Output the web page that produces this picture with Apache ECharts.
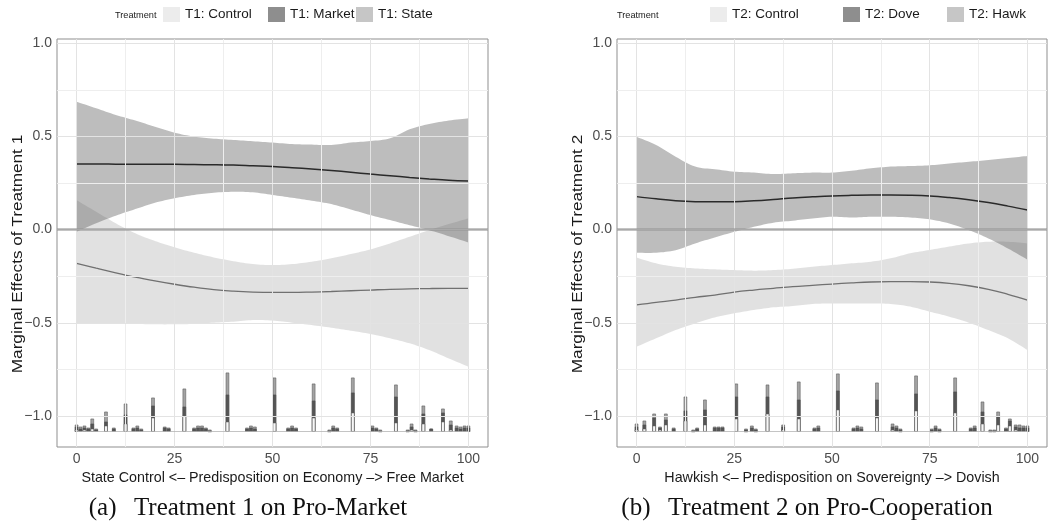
<!DOCTYPE html>
<html><head><meta charset="utf-8">
<script src="https://cdn.jsdelivr.net/npm/echarts@6/dist/echarts.min.js"></script>
<style>html,body{margin:0;padding:0;background:#fff}#c{width:1048px;height:530px}</style>
</head><body><div id="c"></div>
<script>
const FONT = '"Liberation Sans", Arial, Helvetica, sans-serif';
const SERIF = '"Liberation Serif", "Times New Roman", serif';

// axis settings
const X_MIN = -5, X_MAX = 105, Y_MIN = -1.166, Y_MAX = 1.0225;
const X_TICKS = [0, 25, 50, 75, 100];
const X_MINOR = [12.5, 37.5, 62.5, 87.5];
const Y_TICKS = [-1, -0.5, 0, 0.5, 1];
const Y_MINOR = [-0.75, -0.25, 0.25, 0.75];
const HIST_BASE = -1.084;     // where the histogram sits on the y scale
const HIST_UNIT = 0.00537;    // y units per count

// predisposition grid for fitted curves
const xs = [0,5,10,15,20,25,30,35,40,45,50,55,60,65,70,75,80,85,90,95,100];

// Panel (a): Treatment 1
const t1MarketHi  = [0.686,0.651,0.615,0.585,0.552,0.520,0.499,0.488,0.481,0.474,0.467,0.459,0.456,0.454,0.467,0.475,0.490,0.538,0.567,0.585,0.597];
const t1MarketFit = [0.352,0.352,0.351,0.350,0.350,0.350,0.349,0.348,0.346,0.342,0.338,0.332,0.325,0.317,0.308,0.298,0.289,0.280,0.272,0.265,0.261];
const t1MarketLo  = [-0.011,0.034,0.075,0.110,0.144,0.168,0.186,0.198,0.203,0.200,0.186,0.171,0.155,0.137,0.108,0.078,0.051,0.024,-0.003,-0.035,-0.069];
const t1StateHi   = [0.158,0.096,0.034,-0.020,-0.061,-0.095,-0.124,-0.149,-0.169,-0.185,-0.190,-0.185,-0.172,-0.154,-0.131,-0.106,-0.074,-0.038,-0.003,0.030,0.060];
const t1StateFit  = [-0.181,-0.207,-0.232,-0.255,-0.275,-0.293,-0.309,-0.322,-0.330,-0.335,-0.337,-0.337,-0.335,-0.332,-0.328,-0.324,-0.320,-0.318,-0.316,-0.315,-0.315];
const t1StateLo   = [-0.506,-0.506,-0.506,-0.506,-0.508,-0.508,-0.506,-0.499,-0.494,-0.485,-0.488,-0.499,-0.512,-0.526,-0.542,-0.560,-0.583,-0.610,-0.646,-0.691,-0.735];

// Panel (b): Treatment 2
const t2DoveHi  = [0.498,0.454,0.391,0.338,0.324,0.311,0.306,0.298,0.302,0.306,0.306,0.316,0.329,0.338,0.341,0.345,0.355,0.364,0.373,0.384,0.395];
const t2DoveFit = [0.177,0.165,0.155,0.150,0.149,0.150,0.155,0.162,0.170,0.176,0.181,0.184,0.186,0.186,0.185,0.181,0.172,0.160,0.145,0.126,0.105];
const t2DoveLo  = [-0.124,-0.124,-0.110,-0.074,-0.042,-0.012,0.015,0.037,0.048,0.060,0.069,0.065,0.069,0.069,0.065,0.055,0.033,-0.003,-0.047,-0.101,-0.161];
const t2HawkHi  = [-0.150,-0.181,-0.199,-0.208,-0.213,-0.217,-0.220,-0.217,-0.210,-0.199,-0.190,-0.181,-0.172,-0.154,-0.127,-0.109,-0.091,-0.074,-0.065,-0.065,-0.074];
const t2HawkFit = [-0.404,-0.390,-0.378,-0.363,-0.351,-0.335,-0.324,-0.315,-0.306,-0.299,-0.292,-0.286,-0.281,-0.279,-0.279,-0.281,-0.288,-0.301,-0.320,-0.347,-0.378];
const t2HawkLo  = [-0.628,-0.583,-0.539,-0.503,-0.471,-0.449,-0.431,-0.417,-0.410,-0.399,-0.396,-0.396,-0.396,-0.399,-0.413,-0.440,-0.467,-0.499,-0.539,-0.583,-0.646];

// Histograms (counts per treatment group)
const h1X       = [0,1,2,3,4,5,7.5,9.5,12.5,14.5,15.5,16.5,19.5,22.5,23.5,27.5,30,31,32,33,34,38.5,43.5,44.5,45.5,50.5,54,55,56,60.5,64.5,65.5,66.5,70.5,75.5,76.5,77.5,81.5,84.5,85.5,86.5,88.5,90.5,93.5,95.5,97,98,99,100];
const h1Control = [2,1,2,1,3,1,6,1,8,1,1,1,14,1,1,16,1,1,1,1,0,10,1,1,1,9,1,1,1,14,0,1,1,19,1,1,0,9,0,2,0,8,1,10,2,1,1,1,1];
const h1Market  = [3,2,2,2,5,1,4,2,9,2,3,1,12,3,2,9,2,3,3,2,1,27,2,3,2,28,2,3,2,17,1,3,2,20,3,2,1,26,1,3,1,10,2,9,5,3,2,3,3];
const h1State   = [2,2,2,1,5,1,10,1,11,1,2,1,8,1,1,18,1,2,2,1,1,22,1,2,2,17,1,2,1,17,1,2,1,15,2,1,1,12,1,3,1,8,0,4,4,2,2,2,2];

const h2X       = [0,2,4.5,6,7.5,9.5,12.5,14.5,15.5,17.5,20,21,22,25.5,28,29.5,30.5,33.5,37.5,41.5,45.5,46.5,51.5,55.5,56.5,57.5,61.5,65.5,66.5,67.5,71.5,75.5,76.5,77.5,81.5,85.5,86.5,88.5,90.5,91.5,92.5,94.5,95.5,97,98,99,100];
const h2Control = [2,3,6,2,7,1,11,0,1,7,1,1,1,13,0,1,0,18,2,13,1,1,22,1,1,1,14,2,1,0,21,0,1,0,19,1,1,8,0,0,7,1,6,2,1,1,1];
const h2Dove    = [3,4,8,2,5,2,10,1,2,15,3,3,3,22,2,3,2,17,3,19,2,3,19,2,3,2,18,3,3,2,17,2,3,2,21,2,3,12,1,1,8,2,5,3,3,3,3];
const h2Hawk    = [3,4,4,1,6,1,14,1,1,10,1,1,1,13,1,2,1,12,2,18,1,2,17,1,2,2,17,3,2,1,18,1,2,1,14,1,2,10,1,1,5,1,2,2,3,2,2];

const pair = (xa, ya) => xa.map((x, i) => [x, ya[i]]);
const cum = (...arrs) => arrs[0].map((_, i) => arrs.reduce((s, a) => s + a[i], 0));

const GRID_MAJOR = '#e3e3e3', GRID_MINOR = '#eeeeee';

function gridLinesSeries(p) {
  const d = [];
  X_TICKS.forEach(v => d.push({xAxis: v, lineStyle: {color: GRID_MAJOR, width: 1, type: 'solid'}}));
  X_MINOR.forEach(v => d.push({xAxis: v, lineStyle: {color: GRID_MINOR, width: 1, type: 'solid'}}));
  Y_TICKS.forEach(v => d.push({yAxis: v, lineStyle: {color: GRID_MAJOR, width: 1, type: 'solid'}}));
  Y_MINOR.forEach(v => d.push({yAxis: v, lineStyle: {color: GRID_MINOR, width: 1, type: 'solid'}}));
  return {
    type: 'line', xAxisIndex: p, yAxisIndex: 2 * p, data: [], z: 1, silent: true,
    markLine: {silent: true, symbol: ['none', 'none'], label: {show: false}, animation: false, data: d}
  };
}

// smooth (Catmull-Rom) sampling of pixel points, for drawing only
function smoothPts(pts) {
  const out = [];
  const n = pts.length;
  for (let i = 0; i < n - 1; i++) {
    const p0 = pts[Math.max(i - 1, 0)], p1 = pts[i], p2 = pts[i + 1], p3 = pts[Math.min(i + 2, n - 1)];
    for (let k = 0; k < 8; k++) {
      const t = k / 8, t2 = t * t, t3 = t2 * t;
      const f = (a, b, c, d) => 0.5 * ((2 * b) + (-a + c) * t + (2 * a - 5 * b + 4 * c - d) * t2 + (-a + 3 * b - 3 * c + d) * t3);
      out.push([f(p0[0], p1[0], p2[0], p3[0]), f(p0[1], p1[1], p2[1], p3[1])]);
    }
  }
  out.push(pts[n - 1]);
  return out;
}

function ribbon(p, name, lo, hi, color) {
  return {
    type: 'custom', name: name, xAxisIndex: p, yAxisIndex: 2 * p, silent: true, z: 2,
    data: pair(xs, lo), encode: {x: 0, y: 1},
    renderItem: (params, api) => {
      if (params.dataIndex !== 0) return null;
      const up = smoothPts(xs.map((x, i) => api.coord([x, hi[i]])));
      const dn = smoothPts(xs.map((x, i) => api.coord([x, lo[i]])));
      return {type: 'polygon', shape: {points: up.concat(dn.reverse())}, style: {fill: color}};
    }
  };
}

function fitLine(p, fit, color, width) {
  return {type: 'line', xAxisIndex: p, yAxisIndex: 2 * p, data: pair(xs, fit), smooth: 0.4,
          symbol: 'none', silent: true, z: 4, lineStyle: {color: color, width: width}};
}

function zeroLine(p) {
  return {type: 'line', xAxisIndex: p, yAxisIndex: 2 * p, data: [], z: 3, silent: true,
          markLine: {silent: true, symbol: ['none', 'none'], label: {show: false}, animation: false,
                     data: [{yAxis: 0, lineStyle: {color: 'rgba(150,150,150,0.75)', width: 2.5, type: 'solid'}}]}};
}

// bars are layered (cumulative totals drawn back to front) so segments stack visually
function histBar(p, name, hx, vals, color, withBase) {
  const s = {type: 'bar', name: name, xAxisIndex: p, yAxisIndex: 2 * p + 1,
             barWidth: 3.4, barGap: '-100%', data: pair(hx, vals), silent: true, z: 3,
             itemStyle: {color: color, borderColor: '#4f4f4f', borderWidth: 0.5}};
  if (withBase) {
    s.markLine = {silent: true, symbol: ['none', 'none'], label: {show: false}, animation: false,
                  data: [[{coord: [0, 0]}, {coord: [100, 0]}]],
                  lineStyle: {color: '#b5b5b5', width: 0.8, type: 'solid'}};
  }
  return s;
}

const BAND_DARK = 'rgba(90,90,90,0.40)';
const BAND_LIGHT = 'rgba(90,90,90,0.18)';
const BAR_CONTROL = '#f7f7f7', BAR_DARK = '#555555', BAR_MID = '#a3a3a3';
const KEY_CONTROL = '#ececec', KEY_DARK = '#8e8e8e', KEY_MID = '#c6c6c6';

const grids = [
  {left: 57, top: 39, width: 431, height: 408},
  {left: 617, top: 39, width: 430, height: 408}
];

const xTitles = ['State Control <\u2013 Predisposition on Economy \u2013> Free Market',
                 'Hawkish <\u2013 Predisposition on Sovereignty \u2013> Dovish'];

const xAxes = grids.map((g, i) => ({
  gridIndex: i, type: 'value', min: X_MIN, max: X_MAX,
  splitLine: {show: false}, axisLine: {show: false},
  axisTick: {show: true, customValues: X_TICKS, length: 3, lineStyle: {color: '#444'}},
  axisLabel: {customValues: X_TICKS, color: '#4d4d4d', fontSize: 14, fontFamily: FONT, margin: 5},
  name: xTitles[i], nameLocation: 'middle', nameGap: 19,
  nameTextStyle: {color: '#1a1a1a', fontSize: 14.3, fontFamily: FONT}
}));

const histMin = (Y_MIN - HIST_BASE) / HIST_UNIT;
const histMax = (Y_MAX - HIST_BASE) / HIST_UNIT;
const yAxes = [];
grids.forEach((g, i) => {
  yAxes.push({
    gridIndex: i, type: 'value', min: Y_MIN, max: Y_MAX,
    splitLine: {show: false}, axisLine: {show: false},
    axisTick: {show: true, customValues: Y_TICKS, length: 3, lineStyle: {color: '#444'}},
    axisLabel: {customValues: Y_TICKS, color: '#4d4d4d', fontSize: 14, fontFamily: FONT, margin: 5,
                formatter: v => v.toFixed(1).replace('-', '\u2212')}
  });
  yAxes.push({gridIndex: i, type: 'value', min: histMin, max: histMax, show: false});
});

const series = [
  gridLinesSeries(0),
  ribbon(0, 'T1: State band', t1StateLo, t1StateHi, BAND_LIGHT),
  ribbon(0, 'T1: Market band', t1MarketLo, t1MarketHi, BAND_DARK),
  zeroLine(0),
  fitLine(0, t1StateFit, '#707070', 1.3),
  fitLine(0, t1MarketFit, '#2a2a2a', 1.5),
  histBar(0, 'T1: State', h1X, cum(h1Control, h1Market, h1State), BAR_MID, true),
  histBar(0, 'T1: Market', h1X, cum(h1Control, h1Market), BAR_DARK, false),
  histBar(0, 'T1: Control', h1X, cum(h1Control), BAR_CONTROL, false),

  gridLinesSeries(1),
  ribbon(1, 'T2: Hawk band', t2HawkLo, t2HawkHi, BAND_LIGHT),
  ribbon(1, 'T2: Dove band', t2DoveLo, t2DoveHi, BAND_DARK),
  zeroLine(1),
  fitLine(1, t2HawkFit, '#707070', 1.3),
  fitLine(1, t2DoveFit, '#2a2a2a', 1.5),
  histBar(1, 'T2: Hawk', h2X, cum(h2Control, h2Dove, h2Hawk), BAR_MID, true),
  histBar(1, 'T2: Dove', h2X, cum(h2Control, h2Dove), BAR_DARK, false),
  histBar(1, 'T2: Control', h2X, cum(h2Control), BAR_CONTROL, false)
];

const legendItems = [
  ['T1: Control', KEY_CONTROL, 163], ['T1: Market', KEY_DARK, 268], ['T1: State', KEY_MID, 356],
  ['T2: Control', KEY_CONTROL, 710], ['T2: Dove', KEY_DARK, 843], ['T2: Hawk', KEY_MID, 947]
];
const legends = legendItems.map(([name, color, left]) => ({
  data: [{name: name, icon: 'rect', itemStyle: {color: color, borderWidth: 0, borderColor: 'transparent'}}],
  left: left, top: 7, padding: 0, itemWidth: 17, itemHeight: 15, itemGap: 0,
  selectedMode: false, textStyle: {fontSize: 13.5, color: '#1a1a1a', fontFamily: FONT}
}));

const graphics = [
  {type: 'text', x: 115, y: 15, silent: true,
   style: {text: 'Treatment', font: '9.2px ' + FONT, fill: '#1a1a1a', align: 'left', verticalAlign: 'middle'}},
  {type: 'text', x: 617, y: 15, silent: true,
   style: {text: 'Treatment', font: '9.2px ' + FONT, fill: '#1a1a1a', align: 'left', verticalAlign: 'middle'}},
  {type: 'text', x: 18, y: 254, rotation: Math.PI / 2, scaleX: 1.2, silent: true,
   style: {text: 'Marginal Effects of Treatment 1', font: '14.3px ' + FONT, fill: '#1a1a1a', align: 'center', verticalAlign: 'middle'}},
  {type: 'text', x: 578, y: 254, rotation: Math.PI / 2, scaleX: 1.2, silent: true,
   style: {text: 'Marginal Effects of Treatment 2', font: '14.3px ' + FONT, fill: '#1a1a1a', align: 'center', verticalAlign: 'middle'}},
  {type: 'text', x: 248, y: 508, silent: true,
   style: {text: '(a)\u2002\u2009Treatment 1 on Pro-Market', font: '25px ' + SERIF, fill: '#111', align: 'center', verticalAlign: 'middle'}},
  {type: 'text', x: 807, y: 508, silent: true,
   style: {text: '(b)\u2002\u2009Treatment 2 on Pro-Cooperation', font: '25px ' + SERIF, fill: '#111', align: 'center', verticalAlign: 'middle'}}
];

const chart = echarts.init(document.getElementById('c'), null, {renderer: 'canvas'});
chart.setOption({
  animation: false,
  backgroundColor: '#ffffff',
  textStyle: {fontFamily: FONT},
  grid: grids.map(g => Object.assign({show: true, borderColor: '#8f8f8f', borderWidth: 1, backgroundColor: '#ffffff'}, g)),
  xAxis: xAxes,
  yAxis: yAxes,
  legend: legends,
  graphic: graphics,
  series: series
});
</script>
</body></html>
